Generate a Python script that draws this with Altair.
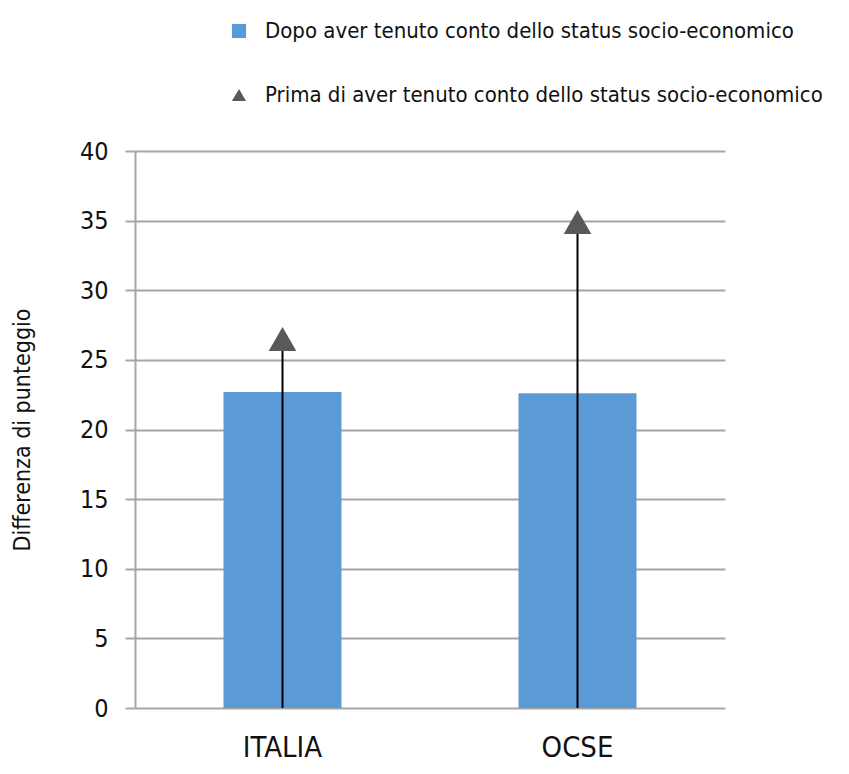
import altair as alt
import pandas as pd

paesi = ["ITALIA", "OCSE"]
serie = [
    "Dopo aver tenuto conto dello status socio-economico",
    "Prima di aver tenuto conto dello status socio-economico",
]
dopo = [22.7, 22.6]
prima = [26.5, 34.9]
y_ticks = [0, 5, 10, 15, 20, 25, 30, 35, 40]

df = pd.DataFrame({
    "paese": paesi + paesi,
    "serie": [serie[0]] * len(paesi) + [serie[1]] * len(paesi),
    "valore": dopo + prima,
})

FONT = "Liberation Sans Narrow, Arial Narrow, DejaVu Sans Condensed, sans-serif"
GRID = "#a6a6a6"

color_scale = alt.Scale(domain=serie, range=["#5b9bd5", "#595959"])
shape_scale = alt.Scale(domain=serie, range=["square", "triangle-up"])

x_enc = alt.X(
    "paese:N", sort=paesi, title=None,
    scale=alt.Scale(paddingInner=0.6, paddingOuter=0.3),
    axis=alt.Axis(domain=False, ticks=False, grid=False, labelAngle=0,
                  labelFontSize=29, labelPadding=25, labelColor="#111",
                  labelFont={"condition": {"test": "datum.value === 'OCSE'", "value": "DejaVu Sans Condensed"},
                             "value": FONT}),
)
y_scale = alt.Scale(domain=[0, 40], nice=False)
y_axis = alt.Axis(values=y_ticks, title="Differenza di punteggio", titleFontSize=23,
                  titleFont=FONT, titleFontWeight="normal", titleColor="#111", titlePadding=45,
                  labelFontSize=25, labelFont=FONT, labelColor="#111", labelPadding=17,
                  tickSize=10, tickColor=GRID, tickWidth=2, domainColor=GRID, domainWidth=2,
                  gridColor=GRID, gridWidth=2)

base = alt.Chart(df)

bars = base.transform_filter(alt.datum.serie == serie[0]).mark_bar().encode(
    x=x_enc,
    y=alt.Y("valore:Q", scale=y_scale, axis=y_axis),
    color=alt.Color("serie:N", scale=color_scale, title=None),
)

rules = base.transform_filter(alt.datum.serie == serie[1]).mark_rule(color="black", strokeWidth=2).encode(
    x=x_enc,
    y=alt.Y("valore:Q", scale=y_scale),
    y2=alt.datum(0),
)

points = base.transform_filter(alt.datum.serie == serie[1]).mark_point(filled=True, size=760, opacity=1).encode(
    x=x_enc,
    y=alt.Y("valore:Q", scale=y_scale),
    color=alt.Color("serie:N", scale=color_scale, title=None),
    shape=alt.Shape("serie:N", scale=shape_scale, title=None),
)

chart = alt.layer(bars, rules, points).properties(
    width=590, height=557,
    autosize=alt.AutoSizeParams(type="none"),
    padding={"left": 127, "top": 143, "right": 110, "bottom": 64},
).configure_view(stroke=None).configure_legend(
    orient="none", legendX=93, legendY=-131, direction="vertical",
    labelFont=FONT, labelFontSize=22, labelColor="#111", labelLimit=700,
    symbolSize=200, symbolOpacity=1, rowPadding=42, labelOffset=15,
)

chart.save("out.html", embed_options={"renderer": "svg", "actions": False})
